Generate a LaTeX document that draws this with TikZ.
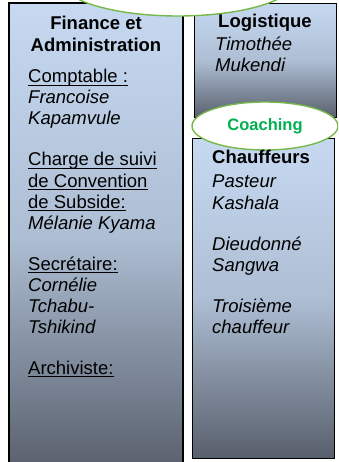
\documentclass[tikz,border=0pt]{standalone}
\usepackage{fontspec}
\setmainfont{Liberation Sans}
\newsavebox\ulbox
\newcommand\myul[1]{\sbox\ulbox{#1}\rlap{\rule[-3.2pt]{\wd\ulbox}{1.1pt}}\usebox\ulbox}
\definecolor{boxtop}{RGB}{198,217,241}
\definecolor{boxbot}{RGB}{88,95,108}
\definecolor{ellgreen}{RGB}{119,184,74}
\definecolor{txtgreen}{RGB}{0,176,80}
\usetikzlibrary{shapes.geometric}
\tikzset{
  colbox/.style={draw=black, line width=1.4pt, top color=boxtop, bottom color=boxbot, middle color=boxtop!78!boxbot},
  bubble/.style={draw=ellgreen, line width=1.4pt, fill=white, ellipse},
  line/.style={anchor=base west, inner sep=0pt, font=\fontsize{18.5}{21}\selectfont},
  title/.style={anchor=base, inner sep=0pt, font=\fontsize{18.5}{21}\selectfont\bfseries},
}
\begin{document}
\begin{tikzpicture}[x=1pt,y=-1pt]
\useasboundingbox (0,0) rectangle (338,462);
\clip (0,0) rectangle (338,462);
% boxes
\path[colbox] (9,3) rectangle (183,470);
\node[colbox, anchor=north west, minimum width=142pt, minimum height=114pt, inner sep=0pt] (logi) at (194,3) {};
\node[colbox, anchor=north west, minimum width=142pt, minimum height=320pt, inner sep=0pt] (chauf) at (192,138) {};
% top bubble
\node[bubble, minimum width=236pt, minimum height=72pt, inner sep=0pt] (topb) at (178,-20) {};
% coaching bubble
\node[bubble, minimum width=146pt, minimum height=48pt, inner sep=0pt, text=txtgreen, font=\fontsize{16.5}{18}\selectfont\bfseries] (coach) at (265,126) {Coaching};
% left column text
\node[title] (t1) at (96,30) {Finance et};
\node[title] (t2) at (96,52) {Administration};
\node[line] (a1) at (28,83) {\myul{Comptable :}};
\node[line] (a2) at (28,104) {\itshape Francoise};
\node[line] (a3) at (28,125) {\itshape Kapamvule};
\node[line] (b1) at (28,166) {\myul{Charge de suivi}};
\node[line] (b2) at (28,187) {\myul{de Convention}};
\node[line] (b3) at (28,208) {\myul{de Subside:}};
\node[line] (b4) at (28,229) {\itshape Mélanie Kyama};
\node[line] (c1) at (28,270) {\myul{Secrétaire:}};
\node[line] (c2) at (28,291) {\itshape Cornélie};
\node[line] (c3) at (28,312) {\itshape Tchabu-};
\node[line] (c4) at (28,333) {\itshape Tshikind};
\node[line] (d1) at (28,374) {\myul{Archiviste:}};
% right column text
\node[title] (r1) at (265,28) {Logistique};
\node[line] (r2) at (215,51) {\itshape Timothée};
\node[line] (r3) at (215,72) {\itshape Mukendi};
\node[title] (s1) at (261,164) {Chauffeurs};
\node[line] (s2) at (212,188) {\itshape Pasteur};
\node[line] (s3) at (212,209) {\itshape Kashala};
\node[line] (s4) at (212,250) {\itshape Dieudonné};
\node[line] (s5) at (212,271) {\itshape Sangwa};
\node[line] (s6) at (212,312) {\itshape Troisième};
\node[line] (s7) at (212,333) {\itshape chauffeur};
\end{tikzpicture}
\end{document}
